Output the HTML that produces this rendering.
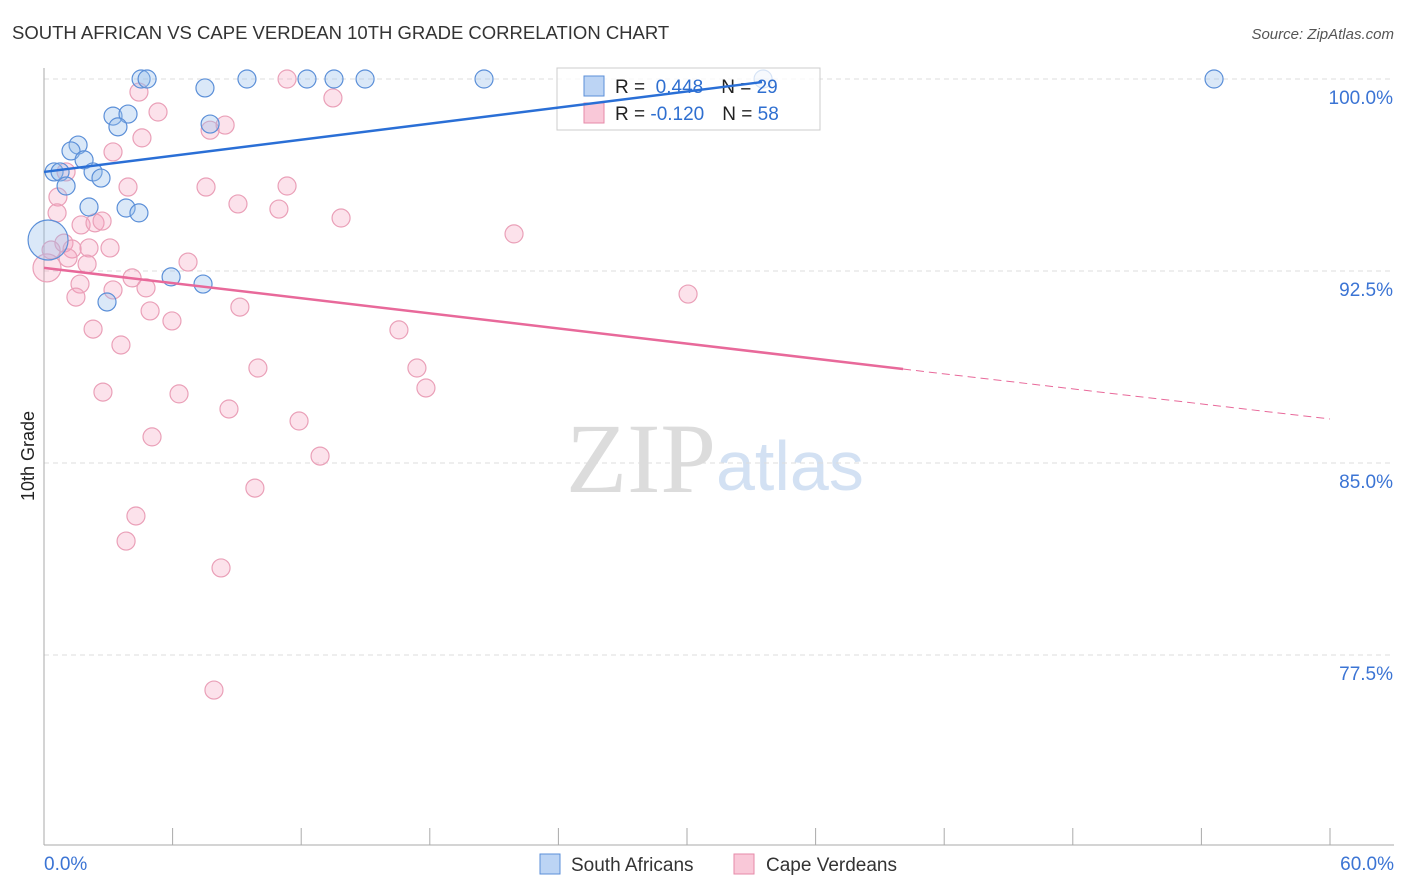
<!DOCTYPE html>
<html><head><meta charset="utf-8"><style>
body{margin:0;background:#fff;font-family:"Liberation Sans",sans-serif}
svg{display:block}
</style></head><body>
<svg id="chart" width="1406" height="892">
<text x="12" y="39" font-size="18.5" fill="#333">SOUTH AFRICAN VS CAPE VERDEAN 10TH GRADE CORRELATION CHART</text>
<text x="1394" y="39" font-size="15" fill="#555" font-style="italic" text-anchor="end">Source: ZipAtlas.com</text>
<text x="716" y="492" font-size="100" fill="#dcdcdc" text-anchor="end" font-family="Liberation Serif,serif">ZIP</text>
<text x="716" y="490" font-size="70" fill="#d3e1f3">atlas</text>
<text transform="translate(34,456) rotate(-90)" font-size="18" fill="#222" text-anchor="middle">10th Grade</text>
<g id="grid"></g><g id="axes"></g><g id="pts"></g>
<g>
<rect x="557" y="68" width="263" height="62" fill="rgba(255,255,255,0.75)" stroke="#ccc"/>
<rect x="584" y="76" width="20" height="20" fill="#bcd4f4" stroke="#5b8fd8"/>
<rect x="584" y="103" width="20" height="20" fill="#f9c8d8" stroke="#e68aa8"/>
<text x="615" y="93" font-size="19" fill="#222">R = <tspan fill="#2f6fd0">&#160;0.448</tspan><tspan dx="18" fill="#222">N = </tspan><tspan fill="#2f6fd0">29</tspan></text>
<text x="615" y="120" font-size="19" fill="#222">R = <tspan fill="#2f6fd0">-0.120</tspan><tspan dx="18" fill="#222">N = </tspan><tspan fill="#2f6fd0">58</tspan></text>
</g>
<g id="trend"></g>
<g>
<rect x="540" y="854" width="20" height="20" fill="#bcd4f4" stroke="#5b8fd8"/>
<text x="571" y="871" font-size="19" fill="#333">South Africans</text>
<rect x="734" y="854" width="20" height="20" fill="#f9c8d8" stroke="#e68aa8"/>
<text x="766" y="871" font-size="19" fill="#333">Cape Verdeans</text>
</g>
</svg>
<script>
const yTicks=[100,92.5,85,77.5];
const yTickLabels=["100.0%","92.5%","85.0%","77.5%"];
const blueX=[4.53,4.81,7.51,9.47,12.27,13.53,14.98,20.53,54.59,33.55,3.22,3.92,3.45,7.75,1.59,1.26,1.87,0.47,0.75,2.29,2.66,1.03,2.10,3.83,4.43,0.19,5.93,7.42,2.94];
const blueY=[100,100,99.65,100,100,100,100,100,100,100,98.55,98.63,98.13,98.24,97.42,97.19,96.84,96.37,96.37,96.37,96.13,95.82,95.0,94.96,94.77,93.71,92.27,91.99,91.29];
const pinkX=[4.43,5.32,13.48,11.34,8.45,7.75,4.57,3.22,1.03,3.92,7.56,11.34,9.05,10.96,13.86,0.65,0.61,21.93,1.73,2.38,2.71,0.93,2.10,3.08,0.33,1.31,0.14,1.12,2.01,6.72,4.11,1.68,4.76,3.22,1.49,4.95,9.14,5.97,2.29,30.05,16.56,3.59,9.98,17.4,17.82,2.75,6.3,8.63,11.9,5.04,12.88,9.84,4.29,3.83,8.26,7.93];
const pinkY=[99.49,98.71,99.26,100,98.2,98.0,97.7,97.15,96.37,95.78,95.78,95.82,95.12,94.92,94.57,95.39,94.77,93.95,94.3,94.38,94.45,93.59,93.4,93.4,93.32,93.36,92.62,93.01,92.77,92.85,92.23,91.99,91.84,91.76,91.48,90.94,91.09,90.55,90.23,91.6,90.2,89.61,88.71,88.71,87.93,87.77,87.7,87.11,86.64,86.02,85.27,84.02,82.93,81.95,80.9,76.13];
const blueTrend=[[0,96.37],[33.5,99.88]];
const pinkTrend=[[0,92.62],[40.08,88.67],[60,86.72]];
const X=v=>44+v/60*1286, Y=v=>79+(100-v)*25.6;
const NS="http://www.w3.org/2000/svg";
function mk(p,t,a){const e=document.createElementNS(NS,t);for(const k in a)e.setAttribute(k,a[k]);p.appendChild(e);return e;}
const grid=document.getElementById('grid'),axes=document.getElementById('axes'),pts=document.getElementById('pts'),tr=document.getElementById('trend');
yTicks.forEach((t,i)=>{
 const l=mk(grid,'line',{x1:44,x2:1394,y1:Y(t),y2:Y(t),stroke:'#ddd','stroke-dasharray':'5,4'});
 
 
 const tx=mk(grid,'text',{x:1393,y:Y(t)+25,'font-size':19,fill:'#3b74d4','text-anchor':'end'});tx.textContent=yTickLabels[i];
 
 
});
const ax=mk(axes,'line',{x1:44,x2:44,y1:68,y2:845,stroke:'#aaa'});


const bx=mk(axes,'line',{x1:44,x2:1394,y1:845,y2:845,stroke:'#aaa'});


for(let i=0;i<=10;i++){const x=X(i*6);const t=mk(axes,'line',{x1:x,x2:x,y1:828,y2:845,stroke:'#aaa'});
 
 }
const x0=mk(axes,'text',{x:44,y:870,'font-size':19,fill:'#3b74d4'});x0.textContent='0.0%';


const x1=mk(axes,'text',{x:1394,y:870,'font-size':19,fill:'#3b74d4','text-anchor':'end'});x1.textContent='60.0%';


pinkX.forEach((v,i)=>{const c=mk(pts,'circle',{cx:X(v),cy:Y(pinkY[i]),r:(i==26?14:9),fill:'rgba(244,160,188,0.3)',stroke:'#eaa0b8','stroke-width':1.2});
 
 });
blueX.forEach((v,i)=>{const c=mk(pts,'circle',{cx:X(v),cy:Y(blueY[i]),r:(i==25?20:9),fill:'rgba(150,190,236,0.35)',stroke:'#5b8fd8','stroke-width':1.2});
 
 });
const bl=mk(tr,'line',{x1:X(blueTrend[0][0]),y1:Y(blueTrend[0][1]),x2:X(blueTrend[1][0]),y2:Y(blueTrend[1][1]),stroke:'#2a6fd6','stroke-width':2.5});


const pl=mk(tr,'line',{x1:X(pinkTrend[0][0]),y1:Y(pinkTrend[0][1]),x2:X(pinkTrend[1][0]),y2:Y(pinkTrend[1][1]),stroke:'#e8699a','stroke-width':2.5});


const pd=mk(tr,'line',{x1:X(pinkTrend[1][0]),y1:Y(pinkTrend[1][1]),x2:X(pinkTrend[2][0]),y2:Y(pinkTrend[2][1]),stroke:'#e8699a','stroke-width':1,'stroke-dasharray':'8,5'});


</script>
</body></html>
